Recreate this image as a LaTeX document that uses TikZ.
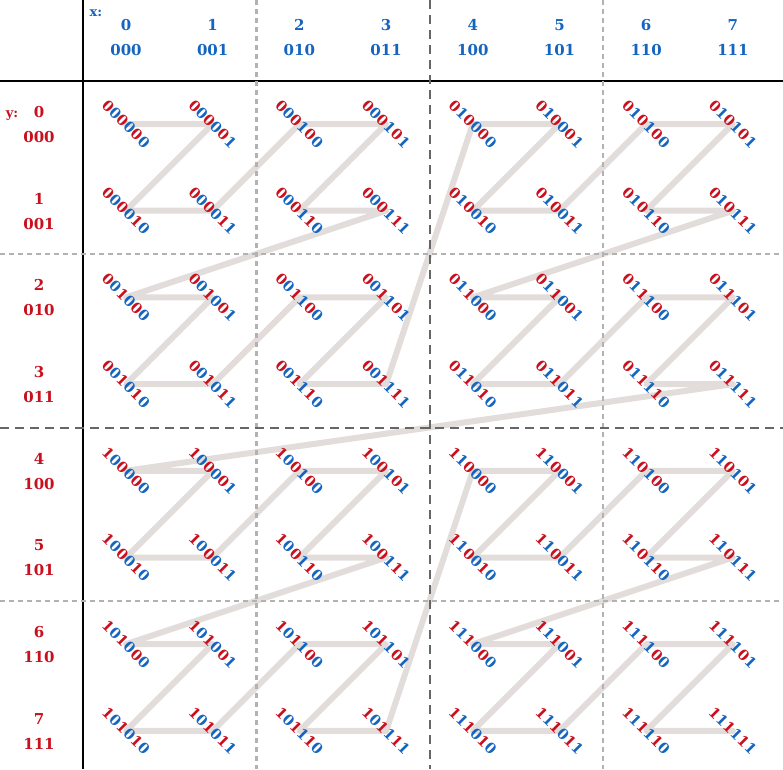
\documentclass[tikz,border=0pt]{standalone}
\usepackage{fontspec}
\setmainfont{DejaVu Serif}
\usetikzlibrary{backgrounds}
\definecolor{ybit}{HTML}{C8101E}
\definecolor{xbit}{HTML}{1565C0}
\definecolor{zcurve}{HTML}{E2DDDB}
\tikzset{
  cell/.style={rotate=-45,inner sep=0pt,font=\bfseries\fontsize{14.5}{14.5}\selectfont},
  xhead/.style={inner sep=0pt,font=\bfseries\fontsize{15}{15}\selectfont,text=xbit},
  yhead/.style={inner sep=0pt,font=\bfseries\fontsize{15}{15}\selectfont,text=ybit},
  axlab/.style={inner sep=0pt,font=\bfseries\fontsize{13}{13}\selectfont},
  % grid lines
  axisline/.style={line width=2.4pt,black},
  major/.style={line width=2.4pt,black!60,dash pattern=on 9pt off 6pt},
  minor/.style={line width=2.4pt,black!30,dash pattern=on 5pt off 4pt},
  % the curve
  zpath/.style={line width=6pt,zcurve,line join=round,line cap=round},
}
\newcommand{\ydig}[1]{\textcolor{ybit}{#1}}
\newcommand{\xdig}[1]{\textcolor{xbit}{#1}}

\begin{document}
\begin{tikzpicture}[x=1pt,y=-1pt]
\useasboundingbox (0,0) rectangle (783,769);
% axes and block borders
\draw[axisline] (83,0) -- (83,769);
\draw[axisline] (0,81) -- (783,81);
\foreach \p in {256.5,603.2}{
  \draw[minor] (\p,0) -- (\p,769);
  \draw[minor] (0,\p-2.5) -- (783,\p-2.5);
}
\draw[major] (430,0) -- (430,769);
\draw[major] (0,428) -- (783,428);
% headers
\node[axlab,text=xbit] (xname) at (96,13) {x:};
\node[axlab,text=ybit] (yname) at (12,116) {y:};
\foreach \i in {0,...,7}{
  \pgfmathtruncatemacro\ba{mod(floor(\i/4),2)}
  \pgfmathtruncatemacro\bb{mod(floor(\i/2),2)}
  \pgfmathtruncatemacro\bc{mod(\i,2)}
  \node[xhead] (hx-\i) at (126+86.7*\i,25) {\i};
  \node[xhead] (hxb-\i) at (126+86.7*\i,50) {\ba\bb\bc};
  \node[yhead] (hy-\i) at (39,112+86.7*\i) {\i};
  \node[yhead] (hyb-\i) at (39,137+86.7*\i) {\ba\bb\bc};
}
% cells: bits y2 x2 y1 x1 y0 x0
\foreach \x in {0,...,7}{
  \foreach \y in {0,...,7}{
    \pgfmathtruncatemacro\xa{mod(floor(\x/4),2)}
    \pgfmathtruncatemacro\xb{mod(floor(\x/2),2)}
    \pgfmathtruncatemacro\xc{mod(\x,2)}
    \pgfmathtruncatemacro\ya{mod(floor(\y/4),2)}
    \pgfmathtruncatemacro\yb{mod(floor(\y/2),2)}
    \pgfmathtruncatemacro\yc{mod(\y,2)}
    \pgfmathtruncatemacro\m{32*\ya+16*\xa+8*\yb+4*\xb+2*\yc+\xc}
    \node[cell,alias=z\m] (n-\x-\y) at (126+86.7*\x,124+86.7*\y)
      {\ydig{\ya}\xdig{\xa}\ydig{\yb}\xdig{\xb}\ydig{\yc}\xdig{\xc}};
  }
}
% Z-order curve
\begin{scope}[on background layer]
\draw[zpath] (z0.center) \foreach \i in {1,...,63}{ -- (z\i.center)};
\end{scope}
\end{tikzpicture}
\end{document}
